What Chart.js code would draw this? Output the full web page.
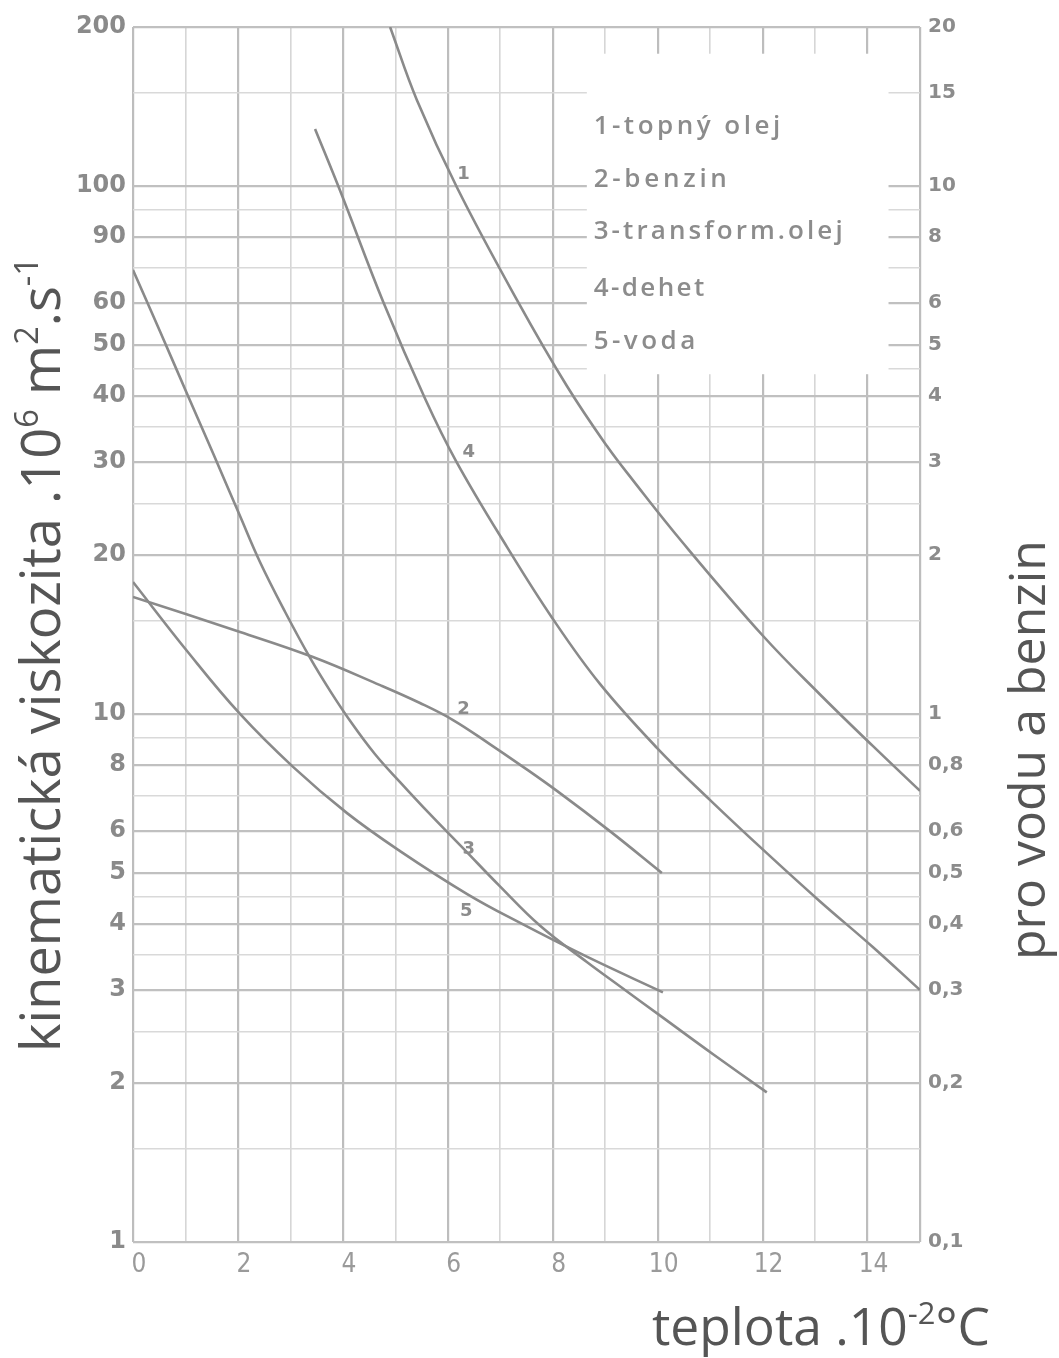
<!DOCTYPE html>
<html><head><meta charset="utf-8">
<style>html,body{margin:0;padding:0;background:#fff;}#wrap{width:1059px;height:1358px;}</style>
<script src="https://cdn.jsdelivr.net/npm/chart.js"></script>
</head><body><div id="wrap"><canvas id="c" width="1059" height="1358"></canvas></div>
<script>
// ---- data ----
const seriesNames = ['1-topný olej', '2-benzin', '3-transform.olej', '4-dehet', '5-voda'];
const curveNumbers = ['1', '2', '3', '4', '5'];

const topnyOlejT = [4.90, 5.41, 6.18, 7.32, 8.27, 9.03, 9.53, 10.48, 12.01, 13.09, 14.10, 15.0];
const topnyOlejV = [200, 145.5, 99.1, 60.8, 41.8, 32.2, 27.7, 21.1, 14.05, 10.9, 8.70, 7.15];

const benzinT = [0, 2.04, 3.43, 4.71, 5.47, 6.10, 6.80, 7.38, 8.08, 9.09, 10.08];
const benzinV = [16.66, 14.30, 12.82, 11.34, 10.49, 9.74, 8.77, 8.01, 7.15, 6.00, 5.00];

const transformOlejT = [0, 0.52, 1.03, 1.53, 2.04, 2.42, 2.90, 3.37, 3.76, 4.14, 4.61, 5.09, 5.66, 6.29, 6.99, 7.76, 8.65, 9.28, 10.10, 11.05, 12.08];
const transformOlejV = [69.3, 52.9, 40.4, 31.1, 23.7, 19.4, 15.6, 12.8, 11.05, 9.70, 8.40, 7.43, 6.46, 5.57, 4.72, 3.97, 3.39, 3.05, 2.66, 2.27, 1.92];

const dehetT = [3.47, 3.95, 4.77, 5.57, 6.16, 7.13, 7.99, 8.90, 9.99, 11.00, 12.08, 13.09, 14.10, 15.0];
const dehetV = [128.2, 97.8, 60.3, 39.5, 30.1, 20.7, 15.2, 11.4, 8.62, 6.87, 5.45, 4.42, 3.62, 3.00];

const vodaT = [0, 1.03, 2.04, 3.05, 4.08, 5.09, 6.37, 7.38, 8.65, 10.10];
const vodaV = [17.78, 13.16, 10.0, 7.94, 6.49, 5.50, 4.56, 4.02, 3.47, 2.97];

const xTickValues = [0,1,2,3,4,5,6,7,8,9,10,11,12,13,14,15];
const xTickLabels = ['0','','2','','4','','6','','8','','10','','12','','14',''];

const yGridValues = [1,1.5,2,2.5,3,3.5,4,4.5,5,6,7,8,9,10,15,20,25,30,35,40,45,50,60,70,80,90,100,150,200];
const yLabelValues = [1,2,3,4,5,6,8,10,20,30,40,50,60,80,100,200];
const yLabelTexts  = ['1','2','3','4','5','6','8','10','20','30','40','50','60','90','100','200'];

const y2LabelValues = [0.1,0.2,0.3,0.4,0.5,0.6,0.8,1,2,3,4,5,6,8,10,15,20];
const y2LabelTexts  = ['0,1','0,2','0,3','0,4','0,5','0,6','0,8','1','2','3','4','5','6','8','10','15','20'];

// ---- helpers ----
const near = (a, b) => Math.abs(Math.log10(a) - Math.log10(b)) < 1e-4;
const findIdx = (arr, v) => arr.findIndex(a => near(a, v));
const pts = (ts, vs) => ts.map((t, i) => ({x: t, y: vs[i]}));

const curveColor = '#8a8a8a';
function ds(label, ts, vs) {
  return { label, data: pts(ts, vs), borderColor: curveColor, borderWidth: 2.6,
           pointRadius: 0, fill: false, tension: 0.4, yAxisID: 'y' };
}

function richWidth(ctx, parts, size, family, weight) {
  let w = 0;
  for (const p of parts) { ctx.font = `${weight} ${p.sup ? size*0.6 : size}px ${family}`; w += ctx.measureText(p.t).width; }
  return w;
}
function drawRich(ctx, parts, size, family, weight) {
  let x = 0;
  for (const p of parts) {
    ctx.font = `${weight} ${p.sup ? size*0.6 : size}px ${family}`;
    ctx.fillText(p.t, x, p.sup ? -size*0.4 : 0);
    x += ctx.measureText(p.t).width;
  }
}
function fitTitle(ctx, parts, x, y, rot, length, family, weight, color) {
  const w100 = richWidth(ctx, parts, 100, family, weight);
  const size = 100 * length / w100;
  ctx.save();
  ctx.translate(x, y); ctx.rotate(rot);
  ctx.fillStyle = color; ctx.textBaseline = 'alphabetic'; ctx.textAlign = 'left';
  drawRich(ctx, parts, size, family, weight);
  ctx.restore();
}

const overlay = {
  id: 'overlay',
  beforeDatasetsDraw(chart) {
    const {ctx, scales: {x, y}} = chart;
    const l = x.getPixelForValue(8.65), r = x.getPixelForValue(14.4);
    const t = y.getPixelForValue(178), b = y.getPixelForValue(44);
    ctx.save(); ctx.fillStyle = '#ffffff'; ctx.fillRect(l, t, r - l, b - t); ctx.restore();
  },
  afterDraw(chart) {
    const {ctx, scales: {x, y}} = chart;
    const fam = '"Open Sans", sans-serif';
    // legend text
    ctx.save();
    ctx.fillStyle = '#8c8c8c'; ctx.textBaseline = 'middle'; ctx.textAlign = 'left';
    const legendV = [129.3, 102.6, 81.8, 63.8, 50.8];
    const legendW = [190, 137, 252, 113, 105];
    ctx.font = `600 26px ${fam}`;
    seriesNames.forEach((n, i) => {
      ctx.letterSpacing = '0px';
      const w = ctx.measureText(n).width;
      ctx.letterSpacing = Math.max(0, (legendW[i] - w) / n.length).toFixed(2) + 'px';
      ctx.fillText(n, x.getPixelForValue(8.78), y.getPixelForValue(legendV[i]));
    });
    ctx.letterSpacing = '0px';
    // curve numbers
    ctx.font = `700 18px "DejaVu Sans", sans-serif`;
    ctx.textAlign = 'center';
    const numT = [6.3, 6.3, 6.4, 6.4, 6.35];
    const numV = [105, 10.2, 5.55, 31.3, 4.22];
    curveNumbers.forEach((n, i) => ctx.fillText(n, x.getPixelForValue(numT[i]), y.getPixelForValue(numV[i])));
    ctx.restore();
    // titles
    fitTitle(ctx, [{t:'kinematická viskozita .10'},{t:'6',sup:1},{t:' m'},{t:'2',sup:1},{t:'.s'},{t:'-1',sup:1}],
             60, 1052, -Math.PI/2, 795, fam, 400, '#555555');
    fitTitle(ctx, [{t:'teplota .10'},{t:'-2',sup:1},{t:'°C'}], 652, 1345, 0, 338, fam, 400, '#555555');
    fitTitle(ctx, [{t:'pro vodu a benzin'}], 1045, 960, -Math.PI/2, 420, fam, 400, '#555555');
  }
};

new Chart(document.getElementById('c'), {
  type: 'line',
  data: { datasets: [
    ds(seriesNames[0], topnyOlejT, topnyOlejV),
    ds(seriesNames[1], benzinT, benzinV),
    ds(seriesNames[2], transformOlejT, transformOlejV),
    ds(seriesNames[3], dehetT, dehetV),
    ds(seriesNames[4], vodaT, vodaV)
  ]},
  options: {
    responsive: false, animation: false, devicePixelRatio: 1,
    layout: { padding: { top: 27, left: 0, right: 0, bottom: 0 } },
    plugins: { legend: { display: false }, tooltip: { enabled: false } },
    scales: {
      x: {
        type: 'linear', min: 0, max: 15,
        afterBuildTicks: s => { s.ticks = xTickValues.map(v => ({value: v})); },
        afterFit: s => { s.height = 116; },
        ticks: { autoSkip: false, maxRotation: 0, padding: 8, labelOffset: 6, color: '#9a9a9a',
                 font: {family: '"Liberation Sans Narrow", "DejaVu Sans Condensed", sans-serif', size: 26, weight: 'normal'},
                 callback: (v, i) => xTickLabels[i] },
        grid: { drawTicks: false,
                color: c => c.tick && (c.tick.value % 2 === 0 || c.tick.value === 15) ? '#bdbdbd' : '#d6d6d6',
                lineWidth: c => c.tick && (c.tick.value % 2 === 0 || c.tick.value === 15) ? 2.2 : 1.6 },
        border: { display: false }
      },
      y: {
        type: 'logarithmic', position: 'left', min: 1, max: 200,
        afterBuildTicks: s => { s.ticks = yGridValues.map(v => ({value: v})); },
        afterFit: s => { s.width = 133; },
        ticks: { autoSkip: false, padding: 7, color: '#8a8a8a',
                 font: {family: '"DejaVu Sans", sans-serif', size: 24, weight: 'bold'},
                 callback: v => { const i = findIdx(yLabelValues, v); return i >= 0 ? yLabelTexts[i] : ''; } },
        grid: { drawTicks: false,
                color: c => c.tick && findIdx(yLabelValues, c.tick.value) >= 0 ? '#c0c0c0' : '#d9d9d9',
                lineWidth: c => c.tick && findIdx(yLabelValues, c.tick.value) >= 0 ? 2.2 : 1.6 },
        border: { display: false }
      },
      y2: {
        type: 'logarithmic', position: 'right', min: 0.1, max: 20,
        afterBuildTicks: s => { s.ticks = y2LabelValues.map(v => ({value: v})); },
        afterFit: s => { s.width = 139; },
        ticks: { autoSkip: false, padding: 8, color: '#8c8c8c',
                 font: {family: '"DejaVu Sans", sans-serif', size: 20, weight: 'bold'},
                 callback: v => { const i = findIdx(y2LabelValues, v); return i >= 0 ? y2LabelTexts[i] : ''; } },
        grid: { drawOnChartArea: false, drawTicks: false },
        border: { display: false }
      }
    }
  },
  plugins: [overlay]
});
</script></body></html>
